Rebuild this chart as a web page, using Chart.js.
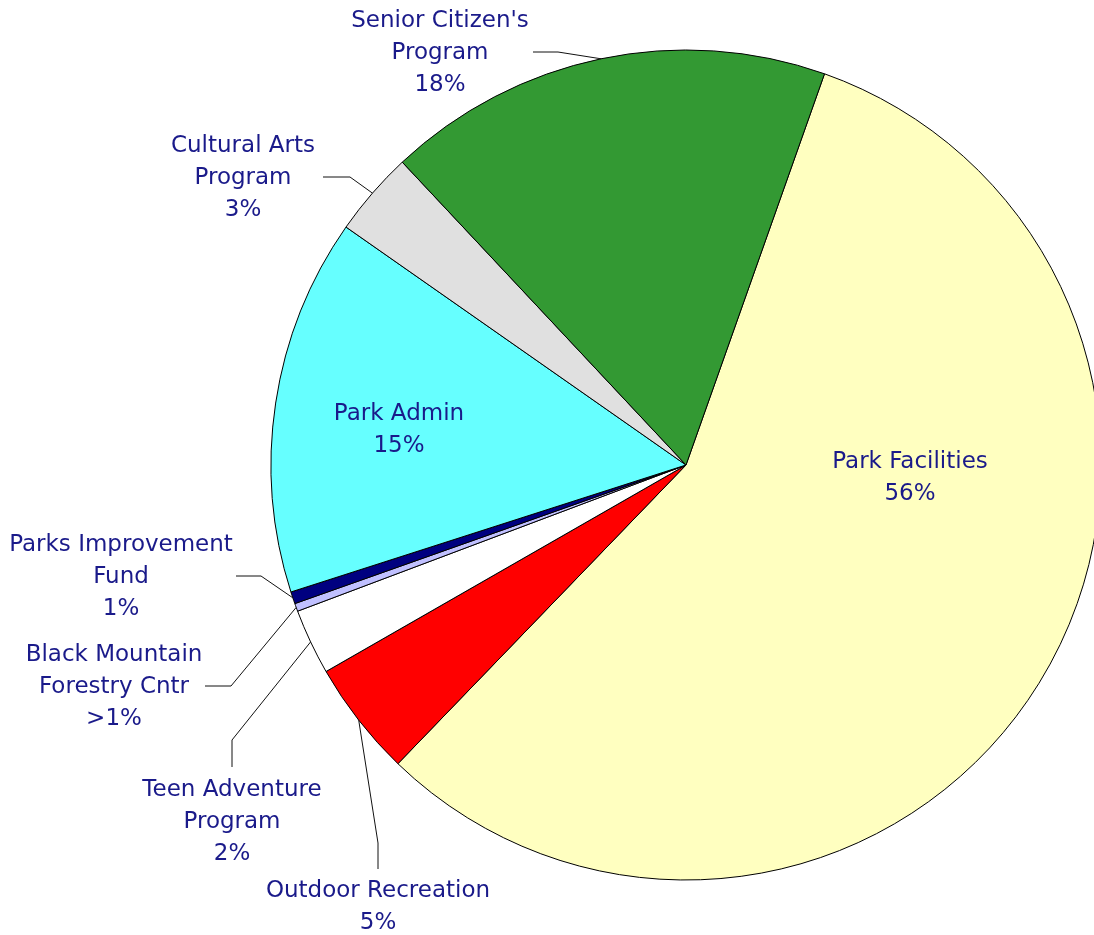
<!DOCTYPE html>
<html>
<head>
<meta charset="utf-8">
<script src="https://cdn.jsdelivr.net/npm/chart.js"></script>
<style>
  html, body { margin: 0; padding: 0; background: #fff; overflow: hidden; }
  #wrap { width: 1094px; height: 935px; }
</style>
</head>
<body>
<div id="wrap"><canvas id="pie"></canvas></div>
<script>
// slice order goes clockwise, starting from the Park Facilities edge near the top
const categories = [
  "Park Facilities",
  "Outdoor Recreation",
  "Teen Adventure Program",
  "Black Mountain Forestry Cntr",
  "Parks Improvement Fund",
  "Park Admin",
  "Cultural Arts Program",
  "Senior Citizen's Program"
];
const shares = [56.8, 4.5, 2.56, 0.31, 0.47, 14.67, 3.3, 17.4];
const shareLabels = ["56%", "5%", "2%", ">1%", "1%", "15%", "3%", "18%"];
const nameLines = [
  ["Park Facilities"],
  ["Outdoor Recreation"],
  ["Teen Adventure", "Program"],
  ["Black Mountain", "Forestry Cntr"],
  ["Parks Improvement", "Fund"],
  ["Park Admin"],
  ["Cultural Arts", "Program"],
  ["Senior Citizen's", "Program"]
];
const sliceColors = ["#ffffc0", "#ff0000", "#ffffff", "#c0c0ff", "#000080", "#66ffff", "#e0e0e0", "#339933"];

// where each label sits (center x, first line y) and the elbow of its leader line
const labelSpots = [
  { x: 910, y: 462 },
  { x: 378, y: 891, line: [[378, 869], [378, 843]] },
  { x: 232, y: 790, line: [[232, 767], [232, 740]] },
  { x: 114, y: 655, line: [[205, 686], [231, 686]] },
  { x: 121, y: 545, line: [[236, 576], [261, 576]] },
  { x: 399, y: 414 },
  { x: 243, y: 146, line: [[323, 177], [350, 177]] },
  { x: 440, y: 21, line: [[533, 52], [558, 52]] }
];

const pieLabels = {
  id: "pieLabels",
  afterDraw(chart) {
    const ctx = chart.ctx;
    const arcs = chart.getDatasetMeta(0).data;
    ctx.save();
    ctx.strokeStyle = "#111";
    ctx.lineWidth = 1;
    arcs.forEach((arc, i) => {
      const spot = labelSpots[i];
      if (spot.line) {
        const mid = (arc.startAngle + arc.endAngle) / 2;
        const ex = arc.x + Math.cos(mid) * arc.outerRadius;
        const ey = arc.y + Math.sin(mid) * arc.outerRadius;
        ctx.beginPath();
        ctx.moveTo(spot.line[0][0], spot.line[0][1]);
        ctx.lineTo(spot.line[1][0], spot.line[1][1]);
        ctx.lineTo(ex, ey);
        ctx.stroke();
      }
      ctx.fillStyle = "#1a1a8a";
      ctx.font = "23px 'DejaVu Sans'";
      ctx.textAlign = "center";
      ctx.textBaseline = "middle";
      const lines = nameLines[i].concat([shareLabels[i]]);
      lines.forEach((t, k) => ctx.fillText(t, spot.x, spot.y + k * 32));
    });
    ctx.restore();
  }
};

new Chart(document.getElementById("pie"), {
  type: "pie",
  data: {
    labels: categories,
    datasets: [{
      data: shares,
      backgroundColor: sliceColors,
      borderColor: "#000",
      borderWidth: 1,
      borderJoinStyle: "miter",
      clip: false
    }]
  },
  options: {
    responsive: true,
    maintainAspectRatio: false,
    animation: false,
    rotation: 19.5,
    radius: 415,
    layout: { padding: { left: 278, right: 0, top: 0, bottom: 5 } },
    plugins: {
      legend: { display: false },
      tooltip: { enabled: false }
    }
  },
  plugins: [pieLabels]
});
</script>
</body>
</html>
